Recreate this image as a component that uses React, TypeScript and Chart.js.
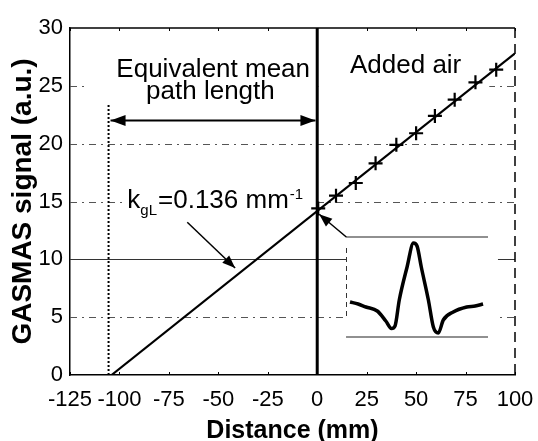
import React, { useEffect, useRef } from "react";
import { Chart, registerables } from "chart.js";

Chart.register(...registerables);

const FONT = '"Liberation Sans", Arial, Helvetica, sans-serif';

// ---- axes ----
const xMin = -125;
const xMax = 100;
const xStep = 25;
const yMin = 0;
const yMax = 30;
const yStep = 5;
const solidGridValue = 10;

// ---- fitted line (k_gL = 0.136 mm^-1) ----
const fitLineX = [-104, 100];
const fitLineY = [0, 27.8];

// ---- measured points with added air ----
const addedAirX = [0.5, 9.5, 19.5, 29.5, 40, 50, 59.5, 69.5, 80, 90.5];
const addedAirY = [14.4, 15.5, 16.6, 18.3, 19.9, 20.9, 22.4, 23.8, 25.3, 26.4];

// ---- inset: GASMAS absorption signal (normalised inset units) ----
const insetU = [0.028, 0.085, 0.14, 0.22, 0.28, 0.32, 0.345, 0.375, 0.43, 0.475, 0.5, 0.53, 0.58, 0.615, 0.65, 0.685, 0.755, 0.85, 0.91, 0.965];
const insetV = [0.35, 0.33, 0.3, 0.26, 0.16, 0.085, 0.11, 0.37, 0.7, 0.94, 0.91, 0.7, 0.37, 0.1, 0.04, 0.17, 0.25, 0.3, 0.31, 0.33];
const insetFrameU = [0, 1];
const insetTopV = [1, 1];
const insetBottomV = [0, 0];

// ---- annotation lines (data units) ----
const zeroLineX = [0, 0];
const zeroLineY = [0, 30];
const pathMarkerX = [-105.5, -105.5];
const pathMarkerY = [0, 23.5];
const pathArrowX = [-104.5, -0.9];
const pathArrowY = [22, 22];
const kArrowX = [-65.7, -41.5];
const kArrowY = [13.2, 9.25];
const insetArrowX = [14.7, 1.0];
const insetArrowY = [11.93, 13.9];

// ---- text annotations ----
const textLabels = [
  { text: "Equivalent mean", x: -52.6, y: 25.76 },
  { text: "path length", x: -54, y: 23.83 },
  { text: "Added air", x: 44.7, y: 26.1 },
];
const kLabel = { x: -96, y: 14.43, main: "k", sub: "gL", rest: "=0.136 mm", sup: "-1" };

// white areas behind text (data units)
const masks = [
  { x0: -117, x1: -0.6, y0: 23.2, y1: 28.6 },
  { x0: 0.6, x1: 87, y0: 23.2, y1: 28.6 },
  { x0: -97.5, x1: -0.6, y0: 13.6, y1: 16.4 },
];
const insetMask = { u0: 0, u1: 1.07, v0: 0, v1: 1 };
const insetEdge = { u: 0, v0: 0.17, v1: 0.89 };

const pts = (xs: number[], ys: number[]) => xs.map((x, i) => ({ x, y: ys[i] }));

function arrowHead(ctx: CanvasRenderingContext2D, fx: number, fy: number, tx: number, ty: number, len = 13, half = 5) {
  const a = Math.atan2(ty - fy, tx - fx);
  ctx.beginPath();
  ctx.moveTo(tx, ty);
  ctx.lineTo(tx - len * Math.cos(a) + half * Math.sin(a), ty - len * Math.sin(a) - half * Math.cos(a));
  ctx.lineTo(tx - len * Math.cos(a) - half * Math.sin(a), ty - len * Math.sin(a) + half * Math.cos(a));
  ctx.closePath();
  ctx.fill();
}

const overlay = {
  id: "overlay",
  beforeDatasetsDraw(chart: any) {
    const { ctx, chartArea: a, scales } = chart;
    const x = scales.x, y = scales.y, xi = scales.xi, yi = scales.yi;
    ctx.save();
    // grid lines
    y.ticks.forEach((t: any) => {
      if (t.value <= yMin || t.value >= yMax) return;
      const py = Math.round(y.getPixelForValue(t.value)) + 0.5;
      const solid = t.value === solidGridValue;
      ctx.beginPath();
      ctx.setLineDash(solid ? [] : [7, 5, 2, 5]);
      ctx.strokeStyle = solid ? "#333" : "#555";
      ctx.lineWidth = 1;
      ctx.moveTo(a.left, py);
      ctx.lineTo(a.right, py);
      ctx.stroke();
    });
    ctx.setLineDash([]);
    // white masks
    ctx.fillStyle = "#fff";
    masks.forEach((m) => {
      const x0 = x.getPixelForValue(m.x0), x1 = x.getPixelForValue(m.x1);
      const y0 = y.getPixelForValue(m.y0), y1 = y.getPixelForValue(m.y1);
      ctx.fillRect(x0, y1, x1 - x0, y0 - y1);
    });
    {
      const x0 = xi.getPixelForValue(insetMask.u0), x1 = xi.getPixelForValue(insetMask.u1);
      const y0 = yi.getPixelForValue(insetMask.v0), y1 = yi.getPixelForValue(insetMask.v1);
      ctx.fillRect(x0, y1, x1 - x0, y0 - y1);
      const ex = Math.round(xi.getPixelForValue(insetEdge.u)) + 0.5;
      ctx.beginPath();
      ctx.setLineDash([5, 4]);
      ctx.strokeStyle = "#333";
      ctx.lineWidth = 1;
      ctx.moveTo(ex, yi.getPixelForValue(insetEdge.v1));
      ctx.lineTo(ex, yi.getPixelForValue(insetEdge.v0));
      ctx.stroke();
      ctx.setLineDash([]);
    }
    // frame: top solid, right dashed
    ctx.strokeStyle = "#000";
    ctx.lineWidth = 1.5;
    ctx.beginPath();
    ctx.moveTo(a.left, a.top);
    ctx.lineTo(a.right, a.top);
    ctx.stroke();
    ctx.beginPath();
    ctx.setLineDash([10, 6]);
    ctx.moveTo(a.right, a.top);
    ctx.lineTo(a.right, a.bottom);
    ctx.stroke();
    ctx.setLineDash([]);
    // small inward ticks on bottom axis
    ctx.lineWidth = 1;
    x.ticks.forEach((t: any) => {
      const px = Math.round(x.getPixelForValue(t.value)) + 0.5;
      ctx.beginPath();
      ctx.moveTo(px, a.bottom);
      ctx.lineTo(px, a.bottom - 3);
      ctx.moveTo(px, a.top);
      ctx.lineTo(px, a.top + 3);
      ctx.stroke();
    });
    ctx.restore();
  },
  afterDatasetsDraw(chart: any) {
    const { ctx, scales } = chart;
    const x = scales.x, y = scales.y;
    const P = (vx: number, vy: number) => [x.getPixelForValue(vx), y.getPixelForValue(vy)];
    ctx.save();
    ctx.fillStyle = "#000";
    // arrowheads
    {
      const [ax0, ay0] = P(pathArrowX[0], pathArrowY[0]);
      const [ax1, ay1] = P(pathArrowX[1], pathArrowY[1]);
      arrowHead(ctx, ax1, ay1, ax0, ay0, 15, 5.5);
      arrowHead(ctx, ax0, ay0, ax1, ay1, 15, 5.5);
      const [k0x, k0y] = P(kArrowX[0], kArrowY[0]);
      const [k1x, k1y] = P(kArrowX[1], kArrowY[1]);
      arrowHead(ctx, k0x, k0y, k1x, k1y, 13, 5);
      const [i0x, i0y] = P(insetArrowX[0], insetArrowY[0]);
      const [i1x, i1y] = P(insetArrowX[1], insetArrowY[1]);
      arrowHead(ctx, i0x, i0y, i1x, i1y, 13, 5);
    }
    // texts
    ctx.textBaseline = "alphabetic";
    ctx.textAlign = "center";
    ctx.font = `26px ${FONT}`;
    textLabels.forEach((l) => {
      const [px, py] = P(l.x, l.y);
      ctx.fillText(l.text, px, py);
    });
    // k_gL label
    {
      ctx.textAlign = "left";
      let [px, py] = P(kLabel.x, kLabel.y);
      ctx.font = `26px ${FONT}`;
      ctx.fillText(kLabel.main, px, py);
      px += ctx.measureText(kLabel.main).width;
      ctx.font = `15px ${FONT}`;
      ctx.fillText(kLabel.sub, px, py + 7);
      px += ctx.measureText(kLabel.sub).width + 1;
      ctx.font = `26px ${FONT}`;
      ctx.fillText(kLabel.rest, px, py);
      px += ctx.measureText(kLabel.rest).width + 1;
      ctx.font = `15px ${FONT}`;
      ctx.fillText(kLabel.sup, px, py - 9);
    }
    ctx.restore();
  },
};

export default function App() {
  const ref = useRef<HTMLCanvasElement | null>(null);
  useEffect(() => {
    if (!ref.current) return;
    const black = "#000";
    const line = (data: any[], extra: any = {}) => ({
      data,
      showLine: true,
      borderColor: black,
      backgroundColor: black,
      pointRadius: 0,
      borderWidth: 2,
      xAxisID: "x",
      yAxisID: "y",
      ...extra,
    });
    const chart = new Chart(ref.current, {
      type: "scatter",
      data: {
        datasets: [
          line(pts(fitLineX, fitLineY), { borderWidth: 2.2 }),
          {
            data: pts(addedAirX, addedAirY),
            showLine: false,
            pointStyle: "cross",
            pointRadius: 7,
            pointBorderWidth: 2.2,
            borderColor: black,
            backgroundColor: black,
            xAxisID: "x",
            yAxisID: "y",
          },
          line(pts(zeroLineX, zeroLineY), { borderWidth: 3 }),
          line(pts(pathMarkerX, pathMarkerY), { borderWidth: 2, borderDash: [2, 2] }),
          line(pts(pathArrowX, pathArrowY), { borderWidth: 2 }),
          line(pts(kArrowX, kArrowY), { borderWidth: 1.5 }),
          line(pts(insetArrowX, insetArrowY), { borderWidth: 1.5 }),
          line(pts(insetU, insetV), {
            borderWidth: 3.5,
            cubicInterpolationMode: "monotone",
            xAxisID: "xi",
            yAxisID: "yi",
          }),
          line(pts(insetFrameU, insetTopV), { borderWidth: 1.2, borderColor: "#222", xAxisID: "xi", yAxisID: "yi" }),
          line(pts(insetFrameU, insetBottomV), { borderWidth: 1.2, borderColor: "#222", xAxisID: "xi", yAxisID: "yi" }),
        ],
      },
      options: {
        responsive: false,
        animation: false,
        devicePixelRatio: 1,
        layout: { padding: { left: 0, right: 23, top: 28, bottom: 0 } },
        plugins: { legend: { display: false }, tooltip: { enabled: false } },
        scales: {
          x: {
            type: "linear",
            position: "bottom",
            min: xMin,
            max: xMax,
            afterFit: (s: any) => {
              s.height = 66;
            },
            ticks: {
              stepSize: xStep,
              color: black,
              padding: 0,
              maxRotation: 0,
              autoSkip: false,
              font: { family: FONT, size: 22 },
            },
            grid: { display: false, drawTicks: true, tickLength: 12 },
            border: { display: true, color: black, width: 1.5 },
            title: {
              display: true,
              text: "Distance (mm)",
              color: black,
              padding: { top: 0, bottom: 0 },
              font: { family: FONT, size: 25, weight: "bold", lineHeight: 0.8 },
            },
          },
          y: {
            type: "linear",
            position: "left",
            min: yMin,
            max: yMax,
            afterFit: (s: any) => {
              s.width = 70;
            },
            ticks: {
              stepSize: yStep,
              color: black,
              padding: 0,
              font: { family: FONT, size: 22 },
            },
            grid: { display: false, drawTicks: true, tickLength: 7 },
            border: { display: true, color: black, width: 1.5 },
            title: {
              display: true,
              text: "GASMAS signal (a.u.)",
              color: black,
              padding: { top: 6, bottom: 0 },
              font: { family: FONT, size: 28, weight: "bold", lineHeight: 1.2 },
            },
          },
          xi: { type: "linear", display: false, min: -1.944, max: 1.19 },
          yi: { type: "linear", display: false, min: -0.38, max: 3.09 },
        },
      },
      plugins: [overlay],
    } as any);
    return () => chart.destroy();
  }, []);
  return (
    <div style={{ position: "absolute", left: 0, top: 0, width: 538, height: 441, background: "#fff" }}>
      <canvas ref={ref} width={538} height={441} style={{ display: "block" }} />
    </div>
  );
}
